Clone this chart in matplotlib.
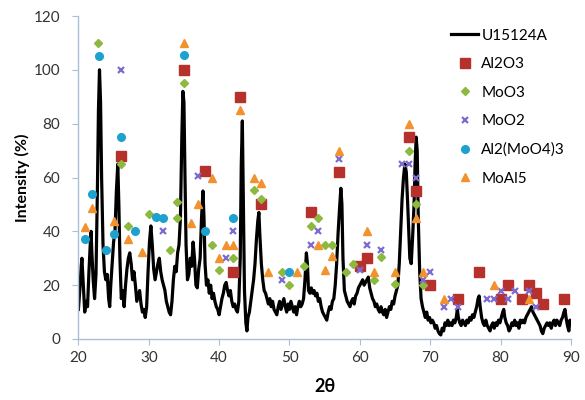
import matplotlib
matplotlib.use("Agg")
import matplotlib.pyplot as plt

plt.rcParams["font.family"] = ["Lato", "DejaVu Sans"]

two_theta = [
    20.0, 20.2, 20.4, 20.5, 20.7, 20.9, 21.1, 21.3, 21.5, 21.7, 21.8, 21.9, 22.1, 22.3, 22.5, 22.7,
    22.85, 23.0, 23.15, 23.3, 23.5, 23.7, 23.9, 24.1, 24.3, 24.45, 24.6, 24.8, 25.0, 25.2, 25.4, 25.6,
    25.75, 25.9, 26.1, 26.3, 26.5, 26.7, 26.9, 27.1, 27.3, 27.5, 27.7, 27.9, 28.1, 28.3, 28.5, 28.7,
    28.9, 29.1, 29.3, 29.5, 29.7, 29.9, 30.1, 30.3, 30.5, 30.7, 30.9, 31.1, 31.3, 31.5, 31.7, 31.9,
    32.1, 32.3, 32.5, 32.7, 32.9, 33.1, 33.3, 33.5, 33.7, 33.9, 34.1, 34.3, 34.5, 34.7, 34.85, 35.0,
    35.15, 35.3, 35.5, 35.7, 35.9, 36.1, 36.3, 36.5, 36.7, 36.9, 37.1, 37.3, 37.5, 37.7, 37.85, 38.0,
    38.2, 38.4, 38.6, 38.8, 39.0, 39.2, 39.4, 39.6, 39.8, 40.0, 40.2, 40.4, 40.6, 40.8, 41.0, 41.2,
    41.4, 41.6, 41.8, 42.0, 42.2, 42.4, 42.6, 42.8, 43.0, 43.15, 43.3, 43.45, 43.6, 43.8, 43.95, 44.1,
    44.3, 44.5, 44.7, 44.9, 45.1, 45.3, 45.5, 45.65, 45.8, 46.0, 46.2, 46.4, 46.6, 46.8, 47.0, 47.2,
    47.4, 47.6, 47.8, 48.0, 48.2, 48.4, 48.6, 48.8, 49.0, 49.2, 49.4, 49.6, 49.8, 50.0, 50.2, 50.4,
    50.6, 50.8, 51.0, 51.2, 51.4, 51.6, 51.8, 52.0, 52.2, 52.4, 52.55, 52.7, 52.9, 53.1, 53.3, 53.5,
    53.7, 53.9, 54.1, 54.3, 54.5, 54.7, 54.9, 55.1, 55.3, 55.5, 55.7, 55.9, 56.1, 56.3, 56.5, 56.7,
    56.9, 57.1, 57.3, 57.45, 57.6, 57.8, 58.0, 58.2, 58.4, 58.6, 58.8, 59.0, 59.2, 59.4, 59.6, 59.8,
    60.0, 60.2, 60.4, 60.6, 60.8, 61.0, 61.2, 61.4, 61.6, 61.8, 62.0, 62.2, 62.4, 62.6, 62.8, 63.0,
    63.2, 63.4, 63.6, 63.8, 64.0, 64.2, 64.4, 64.6, 64.8, 65.0, 65.2, 65.4, 65.6, 65.8, 66.0, 66.2,
    66.4, 66.6, 66.8, 66.95, 67.1, 67.3, 67.5, 67.7, 67.85, 68.0, 68.15, 68.3, 68.5, 68.7, 68.9, 69.1,
    69.3, 69.5, 69.7, 69.9, 70.1, 70.3, 70.5, 70.7, 70.9, 71.1, 71.3, 71.5, 71.7, 71.9, 72.1, 72.3,
    72.5, 72.7, 72.9, 73.1, 73.3, 73.5, 73.7, 73.85, 74.0, 74.2, 74.4, 74.6, 74.8, 75.0, 75.2, 75.4,
    75.6, 75.8, 76.0, 76.2, 76.4, 76.6, 76.8, 76.95, 77.1, 77.3, 77.5, 77.7, 77.9, 78.1, 78.3, 78.5,
    78.7, 78.9, 79.1, 79.3, 79.5, 79.7, 79.9, 80.1, 80.3, 80.45, 80.6, 80.8, 81.0, 81.2, 81.4, 81.6,
    81.8, 82.0, 82.2, 82.4, 82.6, 82.8, 83.0, 83.2, 83.4, 83.6, 83.8, 84.0, 84.2, 84.4, 84.6, 84.8,
    85.0, 85.2, 85.4, 85.6, 85.8, 86.0, 86.2, 86.4, 86.6, 86.8, 87.0, 87.2, 87.4, 87.6, 87.8, 88.0,
    88.2, 88.4, 88.6, 88.8, 89.0, 89.15, 89.3, 89.5, 89.7, 89.85, 90.0,
]
intensity = [
    11, 18, 27, 30, 20, 10, 14, 12, 25, 36, 40, 33, 22, 15, 24, 55,
    85, 100, 88, 60, 35, 25, 22, 24, 15, 12, 20, 28, 36, 40, 55, 65,
    50, 30, 15, 18, 12, 20, 26, 30, 32, 28, 22, 25, 20, 14, 16, 18,
    13, 10, 11, 8, 12, 25, 36, 42, 35, 26, 22, 25, 28, 30, 25, 22,
    20, 18, 14, 12, 10, 9, 14, 22, 27, 25, 32, 35, 45, 75, 92, 88,
    60, 35, 22, 24, 30, 27, 36, 30, 20, 19, 26, 30, 45, 55, 45, 28,
    20, 22, 17, 20, 15, 17, 14, 12, 11, 9, 12, 15, 17, 20, 21, 18,
    16, 18, 14, 12, 13, 11, 10, 14, 30, 65, 81, 50, 18, 6, 3, 8,
    10, 14, 18, 22, 28, 37, 44, 47, 38, 28, 22, 18, 17, 15, 13, 15,
    12, 14, 11, 10, 9, 12, 14, 11, 13, 15, 12, 10, 13, 11, 14, 12,
    10, 12, 9, 12, 14, 12, 13, 15, 22, 32, 28, 18, 17, 19, 17, 18,
    16, 17, 14, 15, 12, 10, 9, 8, 7, 10, 12, 11, 14, 15, 20, 28,
    39, 48, 56, 50, 30, 18, 16, 14, 13, 12, 14, 15, 13, 16, 17, 19,
    20, 21, 22, 20, 21, 22, 23, 19, 17, 15, 14, 12, 13, 11, 10, 12,
    10, 9, 11, 8, 10, 12, 11, 14, 13, 16, 18, 20, 28, 40, 52, 60,
    65, 62, 50, 40, 30, 28, 38, 50, 65, 75, 70, 45, 25, 15, 12, 10,
    8, 10, 7, 8, 6, 7, 6, 4, 5, 3, 2, 1.5, 4, 3, 6, 5,
    7, 5, 6, 5, 7, 6, 8, 11, 8, 6, 5, 7, 6, 5, 7, 6,
    8, 7, 9, 8, 10, 12, 15, 16, 12, 8, 6, 5, 7, 5, 4, 3,
    5, 6, 4, 6, 5, 7, 6, 8, 10, 11, 8, 6, 5, 3, 4, 6,
    5, 7, 5, 6, 4, 7, 6, 7, 6, 8, 9, 10, 11, 12, 10, 9,
    8, 7, 6, 5, 3, 2, 4, 5, 6, 5, 6, 4, 6, 7, 5, 7,
    6, 5, 7, 8, 10, 11, 8, 5, 3, 7, 6,
]

# reference phase peaks
al2o3_x = [26, 35, 38, 42, 43, 46, 53, 57, 60, 61, 67, 68, 70, 74, 77, 80, 81, 83, 84, 85, 86, 89]
al2o3_y = [68, 100, 62.5, 25, 90, 50, 47, 62, 27, 30, 75, 55, 20, 15, 25, 15, 20, 15, 20, 17, 13, 15]

moo3_x = [22.8, 26, 27, 30, 33, 34, 34, 35, 39, 40, 42, 45, 46, 49, 50, 52, 53, 54,
          55, 56, 58, 59, 62, 63, 65, 67, 68, 69]
moo3_y = [110, 65, 42, 46.5, 33, 51, 45, 95, 35, 25.5, 30, 55.5, 52, 25, 20, 27, 42, 45,
          35, 35, 25, 28, 22, 30.5, 20.5, 70, 50, 20]

moo2_x = [26, 32, 37, 41, 42, 49, 53, 54, 57, 60, 61, 63, 66, 67, 68, 69, 70,
          72, 73, 74, 78, 79, 80, 81, 82, 84, 85]
moo2_y = [100, 40, 60.5, 30, 40, 22, 35, 40, 67, 25.5, 35, 33, 65, 65, 60, 22, 25,
          12, 15, 12, 15, 15, 18, 15, 18, 18, 12]

almoo4_x = [20.9, 21.9, 22.9, 23.9, 25, 26, 28, 31, 32, 35, 38, 42, 50]
almoo4_y = [37, 54, 105, 33, 39, 75, 40, 45.5, 45, 105.5, 40, 45, 25]

moal5_x = [20.9, 21.9, 25, 27, 29, 35, 36, 37, 39, 40, 41, 42, 43, 45, 46, 47, 51,
           54, 55, 56, 57, 61, 62, 65, 67, 68, 69, 72, 79, 84]
moal5_y = [41.5, 48.5, 44, 37, 32.5, 110, 43, 50, 60, 30, 35, 35, 85, 60, 58, 25, 25,
           35, 25.5, 31, 70, 40, 25, 25, 80, 45, 25, 15, 20, 15]

AXIS_COLOR = "#A9BED8"

fig = plt.figure(figsize=(5.85, 4.0), dpi=100)
ax = fig.add_axes([0.134, 0.1525, 0.842, 0.8075])

ax.plot(two_theta, intensity, color="black", lw=2.3, label="U15124A", zorder=2)
ax.plot(al2o3_x, al2o3_y, ls="none", marker="s", ms=6.5, color="#B7312C", label="Al2O3", zorder=3)
ax.plot(moo3_x, moo3_y, ls="none", marker="D", ms=4.5, color="#8DB93F", label="MoO3", zorder=3)
ax.plot(moo2_x, moo2_y, ls="none", marker="x", ms=5, mew=1.6, color="#7D6BD0", label="MoO2", zorder=3)
ax.plot(almoo4_x, almoo4_y, ls="none", marker="o", ms=5.5, color="#1DA1CF", label="Al2(MoO4)3", zorder=3)
ax.plot(moal5_x, moal5_y, ls="none", marker="^", ms=6, color="#F2922E", label="MoAl5", zorder=3)

ax.set_xlim(20, 90)
ax.set_ylim(0, 120)
ax.set_xticks(range(20, 91, 10))
ax.set_yticks(range(0, 121, 20))
ax.spines[["top", "right"]].set_visible(False)
for s in ("left", "bottom"):
    ax.spines[s].set_color(AXIS_COLOR)
    ax.spines[s].set_linewidth(1.0)
ax.tick_params(axis="both", direction="out", length=4, color=AXIS_COLOR,
               labelsize=11, labelcolor="#333333")
ax.tick_params(axis="y", pad=9)
ax.tick_params(axis="x", pad=5)

fig.text(22 / 585, 1 - 178 / 400, "Intensity (%)", rotation=90, ha="center", va="center",
         fontsize=11.5, fontweight="bold")
fig.text(325 / 585, 1 - 386 / 400, "2θ", ha="center", va="center",
         fontsize=13, fontweight="bold")

ax.legend(loc="upper left", bbox_to_anchor=(437 / 585, 1 - 15 / 400),
          bbox_transform=fig.transFigure, frameon=False, fontsize=11,
          handlelength=1.8, handletextpad=0.2, labelspacing=0.95, numpoints=1)

fig.savefig("out.png", dpi=100)
